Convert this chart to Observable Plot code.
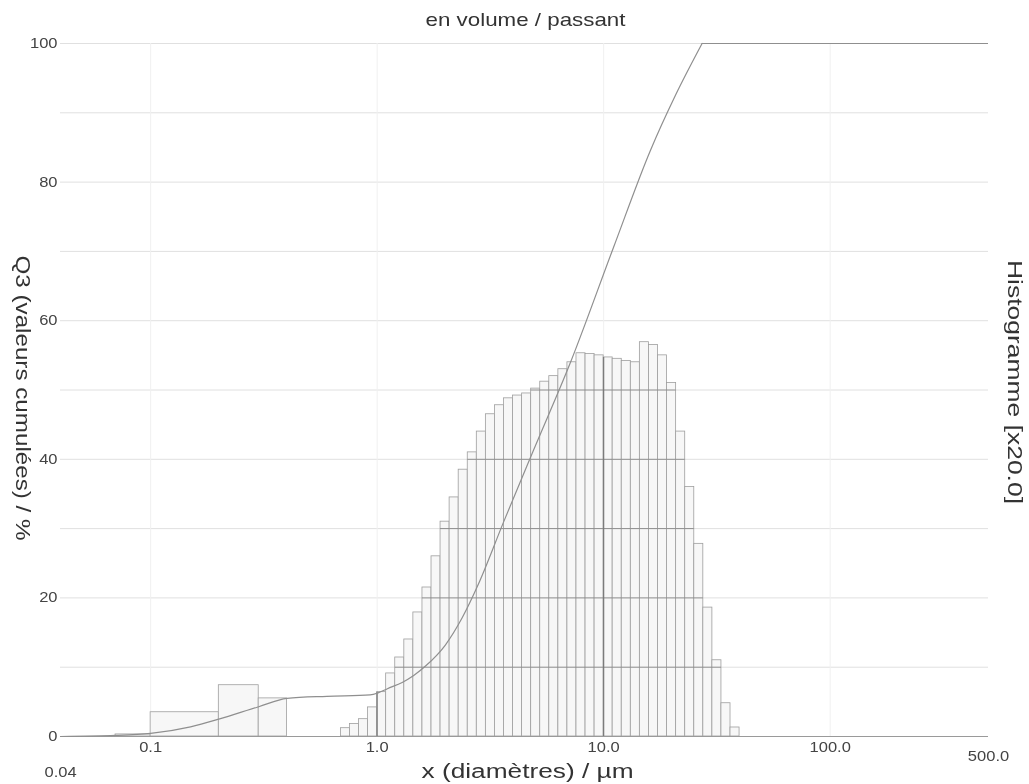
<!DOCTYPE html>
<html>
<head>
<meta charset="utf-8">
<script src="https://cdn.jsdelivr.net/npm/d3@7"></script>
<script src="https://cdn.jsdelivr.net/npm/@observablehq/plot@0.6"></script>
<style>
  html, body { margin: 0; padding: 0; background: #fff; }
  #chart svg { display: block; filter: blur(0.35px); }
</style>
</head>
<body>
<div id="chart"></div>
<script>
// Coarse size classes below 0.5 µm (µm, histogram value)
const coarseLo  = [0.07, 0.1, 0.2, 0.3];
const coarseHi  = [0.1, 0.2, 0.3, 0.4];
const coarseVal = [0.3, 3.5, 7.4, 5.5];

// Fine size classes from 0.69 µm to 40 µm: edges and histogram values
const fineEdges = [0.692, 0.759, 0.832, 0.912, 1.0, 1.096, 1.202, 1.318, 1.445, 1.585,
  1.738, 1.905, 2.089, 2.291, 2.512, 2.754, 3.020, 3.311, 3.631, 3.981, 4.365, 4.786,
  5.248, 5.754, 6.310, 6.918, 7.586, 8.318, 9.120, 10.0, 10.96, 12.02, 13.18, 14.45,
  15.85, 17.38, 19.05, 20.89, 22.91, 25.12, 27.54, 30.20, 33.11, 36.31, 39.81];
const fineVal = [1.2, 1.8, 2.5, 4.2, 6.4, 9.1, 11.4, 14, 17.9, 21.5, 26, 31, 34.5, 38.5,
  41, 44, 46.5, 47.8, 48.8, 49.2, 49.5, 50.2, 51.2, 52, 53, 54, 55.3, 55.2, 55, 54.7,
  54.5, 54.2, 54, 56.9, 56.5, 55, 51, 44, 36, 27.8, 18.6, 11, 4.8, 1.3];

// Cumulative passing curve Q3 (µm, %) up to the point where it reaches 100 %
const curveX  = [0.04, 0.07, 0.1, 0.15, 0.2, 0.3, 0.4, 0.6, 0.93, 1.01, 1.11, 1.29, 1.45,
  1.64, 2.0, 2.38, 2.8, 3.61, 4.9, 7.14, 11.06, 16.1, 20.8, 27.2];
const curveQ3 = [0, 0.15, 0.45, 1.4, 2.5, 4.3, 5.5, 5.8, 6.0, 6.3, 6.9, 7.8, 8.8,
  10.2, 13.2, 17.2, 22.0, 30.9, 41.3, 54, 70.6, 84.6, 92.6, 100];
// Q3 stays at 100 % from there to the end of the size range
const plateauEnd = 500;

// Axis ticks and labels
const yTicks = [0, 20, 40, 60, 80, 100];
const xTicks = [0.1, 1, 10, 100];
const xEnds  = [0.04, 500];
const gridLevels = [10, 20, 30, 40, 50, 60, 70, 80, 90, 100];
const decades = [1, 10];

// Titles
const title  = "en volume / passant";
const xTitle = "x (diamètres) / µm";
const yTitle = "Q3 (valeurs cumulées) / %";
const y2Title = "Histogramme [x20.0]";

// Tables built from the arrays above
const bins = [
  ...coarseLo.map((lo, i) => ({lo, hi: coarseHi[i], v: coarseVal[i]})),
  ...fineVal.map((v, i) => ({lo: fineEdges[i], hi: fineEdges[i + 1], v}))
];
const curve = curveX.map((x, i) => ({x, q: curveQ3[i]}));
const plateau = [{x1: curveX[curveX.length - 1], x2: plateauEnd, q: curveQ3[curveQ3.length - 1]}];
// grid segments that fall inside a bar are printed darker
const innerGrid = gridLevels.flatMap(level =>
  bins.filter(b => b.v >= level).map(b => ({lo: b.lo, hi: b.hi, level})));
const innerDecades = decades.map(d => {
  const b = bins.find(b => b.lo <= d && d < b.hi);
  return {x: d, top: b ? b.v : 0};
});

const ink = "#444";
const font = "'Liberation Sans', Arial, sans-serif";
const curveStroke = "#8f8f8f";

const chart = Plot.plot({
  width: 1029,
  height: 784,
  marginLeft: 60,
  marginRight: 41,
  marginTop: 43,
  marginBottom: 48,
  style: {fontFamily: font, background: "#fff", color: ink},
  x: {type: "log", domain: [0.04, 500]},
  y: {domain: [0, 100]},
  marks: [
    // faint background grid
    Plot.ruleY(gridLevels, {stroke: "#e0e0e0", strokeWidth: 1}),
    Plot.ruleX([0.1, 1, 10, 100], {stroke: "#f0f0f0", strokeWidth: 1}),
    // histogram
    Plot.rectY(bins, {x1: "lo", x2: "hi", y: "v", fill: "#f7f7f7", stroke: "#9e9e9e", strokeWidth: 0.8}),
    Plot.ruleY(innerGrid, {x1: "lo", x2: "hi", y: "level", stroke: "#8a8a8a", strokeWidth: 1}),
    Plot.ruleX(innerDecades, {x: "x", y1: 0, y2: "top", stroke: "#777", strokeWidth: 1.2}),
    // baseline
    Plot.ruleY([0], {stroke: "#9a9a9a", strokeWidth: 1.2}),
    // cumulative curve and its 100 % plateau
    Plot.line(curve, {x: "x", y: "q", curve: "monotone-x", stroke: curveStroke, strokeWidth: 1.2}),
    Plot.ruleY(plateau, {x1: "x1", x2: "x2", y: "q", stroke: curveStroke, strokeWidth: 1.2}),
    // axes
    Plot.axisY({ticks: yTicks, tickSize: 0, tickPadding: 3, label: null, fontSize: 14, fill: ink}),
    Plot.axisX({ticks: xTicks, tickSize: 0, tickPadding: 6, label: null, fontSize: 14, fill: ink,
      tickFormat: d => d.toFixed(1)}),
    Plot.text([xEnds[0]], {x: d => d, frameAnchor: "bottom", dy: 40, text: d => String(d), fontSize: 14, fill: ink}),
    Plot.text([xEnds[1]], {x: d => d, frameAnchor: "bottom", dy: 24, text: d => d.toFixed(1), fontSize: 14, fill: ink}),
    // titles
    Plot.text([title], {frameAnchor: "top", dx: 1, dy: -31, text: d => d, fontSize: 19, fill: "#333"}),
    Plot.text([xTitle], {frameAnchor: "bottom", dx: 3, dy: 41, text: d => d, fontSize: 20, fill: "#333"}),
    Plot.text([yTitle], {frameAnchor: "left", textAnchor: "middle", dx: -38, dy: 8, rotate: 90,
      text: d => d, fontSize: 20, fill: "#333"}),
    Plot.text([y2Title], {frameAnchor: "right", textAnchor: "middle", dx: 26, dy: -8, rotate: 90,
      text: d => d, fontSize: 20, fill: "#333"})
  ]
});

document.getElementById("chart").append(chart);

// The printed lettering is set wider than the font's natural advance
const textWidths = new Map([[title, 200], [xTitle, 212], [yTitle, 285], [y2Title, 244]]);
const stretch = 1.18;
for (const t of chart.querySelectorAll("text")) {
  const w = textWidths.get(t.textContent) ?? t.getComputedTextLength() * stretch;
  if (w > 0) {
    t.setAttribute("textLength", w);
    t.setAttribute("lengthAdjust", "spacingAndGlyphs");
  }
}
</script>
</body>
</html>
